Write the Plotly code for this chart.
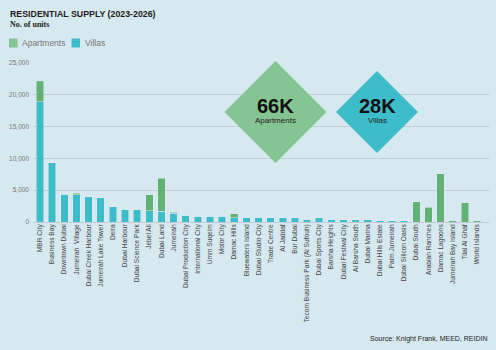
import plotly.graph_objects as go

categories = ["MBR City", "Business Bay", "Downtown Dubai", "Jumeirah  Village", "Dubai Creek Harbour",
              "Jumeirah Lake Tower", "Deira", "Dubai Harbour", "Dubai Science Park", "Jebel Ali",
              "Dubai Land", "Jumeirah", "Dubai Production City", "International City", "Umm Suqeim",
              "Motor City", "Damac Hills", "Bluewaters Island", "Dubai Studio City", "Trade Centre",
              "Al Jaddaf", "Bur Dubai", "Tecom Business Park (Al Sufouh)", "Dubai Sports City",
              "Barsha Heights", "Dubai Festival City", "Al Barsha South", "Dubai Marina",
              "Dubai Hills Estate", "Palm Jumeirah", "Dubai Silicon Oasis", "Dubai South",
              "Arabian Ranches", "Damac Lagoons", "Jumeirah Bay Island", "Tilal Al Ghaf", "World Islands"]

villas = [18900, 9300, 4400, 4250, 3950, 3780, 2370, 2000, 1980, 1780,
          1730, 1370, 1100, 900, 900, 900, 680, 740, 630, 630,
          680, 680, 470, 680, 470, 370, 370, 370, 200, 200, 200,
          0, 0, 0, 0, 0, 0]
apartments = [3300, 0, 0, 250, 0, 0, 0, 0, 0, 2470,
              5170, 160, 0, 0, 0, 0, 620, 0, 0, 0,
              0, 0, 0, 0, 0, 0, 0, 0, 0, 0, 0,
              3200, 2320, 7600, 200, 3000, 200]

y_ticks = [0, 5000, 10000, 15000, 20000, 25000]
y_tick_text = ["0", "5,000", "10,000", "15,000", "20,000", "25,000"]

legend_labels = ["Apartments", "Villas"]
totals_text = ["66K", "28K"]

W, H = 496, 350
TEAL = "#3dbcca"
GREEN_BAR = "#63b275"
GREEN_LIGHT = "#85c593"
BG = "#d7e9f0"

fig = go.Figure()
fig.add_bar(x=categories, y=villas, name="Villas", marker_color=TEAL, showlegend=False)
fig.add_bar(x=categories, y=apartments, name="Apartments", marker_color=GREEN_BAR, showlegend=False)


def px_x(p):
    return p / W


def px_y(p):
    return 1 - p / H


shapes = []
annotations = []


def note(x, y, text, size, color, family="Liberation Sans, Arial", xanchor="left"):
    annotations.append(dict(x=px_x(x), y=px_y(y), xref="paper", yref="paper", text=text,
                            showarrow=False, xanchor=xanchor, yanchor="middle",
                            font=dict(family=family, size=size, color=color)))


def diamond(cx, cy, r, color):
    path = (f"M {px_x(cx - r)} {px_y(cy)} L {px_x(cx)} {px_y(cy - r)} "
            f"L {px_x(cx + r)} {px_y(cy)} L {px_x(cx)} {px_y(cy + r)} Z")
    shapes.append(dict(type="path", xref="paper", yref="paper", path=path,
                       fillcolor=color, line=dict(width=0), layer="above"))


diamond(275.5, 112, 51, GREEN_LIGHT)
diamond(377, 112, 41, TEAL)

note(275.5, 106, f"<b>{totals_text[0]}</b>", 20, "#111", xanchor="center")
note(275.5, 120.5, legend_labels[0], 8, "#222", xanchor="center")
note(377, 106, f"<b>{totals_text[1]}</b>", 20, "#111", xanchor="center")
note(377, 120.5, legend_labels[1], 8, "#222", xanchor="center")

note(8, 14, "<b>RESIDENTIAL SUPPLY (2023-2026)</b>", 8.8, "#1c1c1c")
note(8, 25, "<b>No. of units</b>", 8, "#1c1c1c", family="Liberation Serif, Times New Roman")
note(489, 339, "Source: Knight Frank, MEED, REIDIN", 7, "#222", xanchor="right")

# legend
for (x0, lab, col) in [(9, legend_labels[0], GREEN_LIGHT), (71.5, legend_labels[1], TEAL)]:
    shapes.append(dict(type="rect", xref="paper", yref="paper",
                       x0=px_x(x0), x1=px_x(x0 + 8.5), y0=px_y(47.5), y1=px_y(38.5),
                       fillcolor=col, line=dict(width=0)))
    note(x0 + 11, 43, lab, 8.5, "#777")

fig.update_layout(
    width=W, height=H,
    margin=dict(l=0, r=0, t=0, b=0),
    paper_bgcolor=BG, plot_bgcolor=BG,
    barmode="stack", bargap=0.38,
    showlegend=False,
    shapes=shapes, annotations=annotations,
    xaxis=dict(domain=[px_x(33), px_x(489)], range=[-0.58, 36.99], tickangle=-90,
               tickfont=dict(family="Liberation Sans, Arial", size=6.6, color="#444"),
               showgrid=False, ticks="", anchor="y", automargin=False),
    yaxis=dict(domain=[px_y(222), px_y(63)], range=[0, 25000], tickvals=y_ticks, ticktext=y_tick_text,
               tickfont=dict(family="Liberation Sans, Arial", size=6.5, color="#777"),
               showgrid=True, gridcolor="#c3cbd0", gridwidth=1, zeroline=True, zerolinecolor="#c3cbd0",
               zerolinewidth=1, ticks="", automargin=False, ticklabelstandoff=3),
    font=dict(family="Liberation Sans, Arial"),
)

fig.write_html("out.html")
